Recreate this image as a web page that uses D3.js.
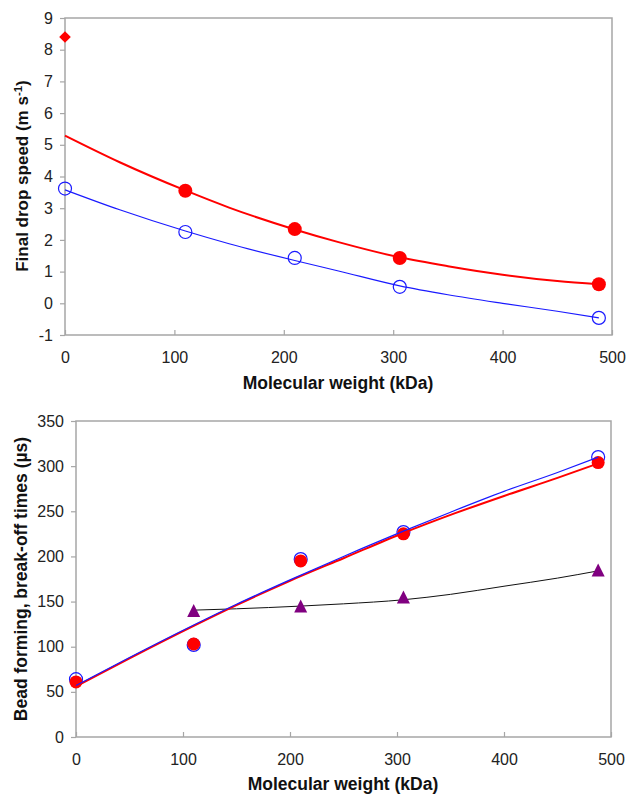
<!DOCTYPE html>
<html><head><meta charset="utf-8">
<script src="https://cdn.jsdelivr.net/npm/d3@7"></script>
<style>body{margin:0;background:#fff}svg{display:block}</style>
</head><body>
<svg id="c" width="626" height="795"></svg>
<script>
// ---------- Top chart data ----------
const xTicks = [0, 100, 200, 300, 400, 500];
const topYTicks = [-1, 0, 1, 2, 3, 4, 5, 6, 7, 8, 9];
const topMW = [110, 210, 306, 488];
const topRedSpeed = [3.55, 2.34, 1.43, 0.6];
const topDiamond = [[0, 8.4]];
const topBlueMW = [0, 110, 210, 306, 488];
const topBlueSpeed = [3.62, 2.25, 1.43, 0.52, -0.46];
const topRedCurveX = [0, 50, 110, 150, 210, 250, 306, 350, 400, 450, 488];
const topRedCurveY = [5.29, 4.45, 3.56, 3.02, 2.33, 1.93, 1.45, 1.17, 0.9, 0.7, 0.6];
const topBlueCurveX = [0, 50, 110, 150, 210, 250, 306, 350, 400, 450, 488];
const topBlueCurveY = [3.58, 2.95, 2.28, 1.88, 1.35, 1.02, 0.55, 0.27, 0.0, -0.25, -0.46];

// ---------- Bottom chart data ----------
const botYTicks = [0, 50, 100, 150, 200, 250, 300, 350];
const botMW = [0, 110, 210, 306, 488];
const botRed = [61, 103, 195, 225, 304];
const botBlue = [64, 102, 197, 227, 310];
const botTriMW = [110, 210, 306, 488];
const botTri = [140, 145, 155, 185];
const botBlueLineX = [0, 50, 110, 150, 200, 250, 306, 350, 400, 450, 488];
const botBlueLineY = [57, 88, 124, 147, 174, 200, 228, 249, 272, 293, 310];
const botRedLineX = [0, 50, 110, 150, 200, 250, 306, 350, 400, 450, 488];
const botRedLineY = [56, 87, 123, 146, 173, 198, 226, 246, 267, 287, 303];
const botBlackLineX = [110, 150, 210, 250, 306, 350, 400, 450, 488];
const botBlackLineY = [140.5, 142, 145, 147.5, 152, 158, 167, 176, 184];

const svg = d3.select('#c');
const FONT = 'Liberation Sans, Arial, sans-serif';
const AXC = '#a6a6a6';

function panel(o) {
  const x = d3.scaleLinear().domain([0, 500]).range([o.left, o.right]);
  const y = d3.scaleLinear().domain(o.ydom).range([o.bottom, o.top]);
  const g = svg.append('g');
  g.append('rect').attr('x', o.left).attr('y', o.top)
    .attr('width', o.right - o.left).attr('height', o.bottom - o.top)
    .attr('fill', 'none').attr('stroke', AXC).attr('stroke-width', 1.5);
  const xa = d3.axisBottom(x).tickValues(xTicks).tickFormat(d => String(d))
    .tickSizeInner(-5).tickSizeOuter(0).tickPadding(17);
  const gx = g.append('g').attr('transform', `translate(0,${o.bottom})`).call(xa);
  gx.select('.domain').remove();
  gx.selectAll('line').attr('stroke', AXC).attr('stroke-width', 1.2);
  gx.selectAll('text').attr('font-family', FONT).attr('font-size', 16).attr('fill', '#222');
  const ya = d3.axisLeft(y).tickValues(o.yticks).tickFormat(d => String(d))
    .tickSizeInner(5).tickSizeOuter(0).tickPadding(7);
  const gy = g.append('g').attr('transform', `translate(${o.left},0)`).call(ya);
  gy.select('.domain').remove();
  gy.selectAll('line').attr('stroke', AXC).attr('stroke-width', 1.2);
  gy.selectAll('text').attr('font-family', FONT).attr('font-size', 16).attr('fill', '#222');
  g.append('text').attr('x', o.xTitleX).attr('y', o.xTitleY).attr('text-anchor', 'middle')
    .attr('font-family', FONT).attr('font-weight', 'bold').attr('font-size', 17.5).attr('fill', '#111')
    .text('Molecular weight (kDa)');
  return {x, y, g};
}

const triType = {draw(ctx, size) {
  const w = Math.sqrt(size), h = w;
  ctx.moveTo(0, -h / 2); ctx.lineTo(w / 2, h / 2); ctx.lineTo(-w / 2, h / 2); ctx.closePath();
}};

// ---------- Top panel ----------
const T = panel({left: 65, right: 612, top: 18, bottom: 335, ydom: [-1, 9], yticks: topYTicks,
  xTitleX: 338, xTitleY: 389});
{
  const {x, y, g} = T;
  const line = d3.line().x(d => x(d[0])).y(d => y(d[1])).curve(d3.curveMonotoneX);
  g.append('path').datum(topRedCurveX.map((v, i) => [v, topRedCurveY[i]]))
    .attr('d', line).attr('fill', 'none').attr('stroke', '#ff0000').attr('stroke-width', 2);
  g.append('path').datum(topBlueCurveX.map((v, i) => [v, topBlueCurveY[i]]))
    .attr('d', line).attr('fill', 'none').attr('stroke', '#1a1aff').attr('stroke-width', 1.2);
  g.selectAll('.rc').data(topMW.map((v, i) => [v, topRedSpeed[i]])).enter().append('circle')
    .attr('cx', d => x(d[0])).attr('cy', d => y(d[1])).attr('r', 7).attr('fill', '#ff0000');
  g.selectAll('.bc').data(topBlueMW.map((v, i) => [v, topBlueSpeed[i]])).enter().append('circle')
    .attr('cx', d => x(d[0])).attr('cy', d => y(d[1])).attr('r', 6.5)
    .attr('fill', 'none').attr('stroke', '#1a1aff').attr('stroke-width', 1.2);
  g.selectAll('.dm').data(topDiamond).enter().append('path')
    .attr('d', d3.symbol(d3.symbolSquare, 68)())
    .attr('transform', d => `translate(${x(d[0])},${y(d[1])}) rotate(45)`).attr('fill', '#ff0000');
  const t = svg.append('text').attr('transform', 'translate(28,176) rotate(-90)').attr('text-anchor', 'middle')
    .attr('font-family', FONT).attr('font-weight', 'bold').attr('font-size', 17).attr('fill', '#111');
  t.append('tspan').text('Final drop speed (m s');
  t.append('tspan').attr('dy', -6).attr('font-size', 11.5).text('-1');
  t.append('tspan').attr('dy', 6).text(')');
}

// ---------- Bottom panel ----------
const B = panel({left: 76, right: 611, top: 421, bottom: 737, ydom: [0, 350], yticks: botYTicks,
  xTitleX: 343, xTitleY: 790});
{
  const {x, y, g} = B;
  const line = d3.line().x(d => x(d[0])).y(d => y(d[1])).curve(d3.curveMonotoneX);
  g.append('path').datum(botBlackLineX.map((v, i) => [v, botBlackLineY[i]]))
    .attr('d', line).attr('fill', 'none').attr('stroke', '#111').attr('stroke-width', 1);
  g.selectAll('.tr').data(botTriMW.map((v, i) => [v, botTri[i]])).enter().append('path')
    .attr('d', d3.symbol(triType, 170)())
    .attr('transform', d => `translate(${x(d[0])},${y(d[1])})`).attr('fill', '#800080');
  g.selectAll('.bc').data(botMW.map((v, i) => [v, botBlue[i]])).enter().append('circle')
    .attr('cx', d => x(d[0])).attr('cy', d => y(d[1])).attr('r', 6.5)
    .attr('fill', 'none').attr('stroke', '#1a1aff').attr('stroke-width', 1.2);
  g.selectAll('.rc').data(botMW.map((v, i) => [v, botRed[i]])).enter().append('circle')
    .attr('cx', d => x(d[0])).attr('cy', d => y(d[1])).attr('r', 6.5).attr('fill', '#ff0000');
  g.append('path').datum(botRedLineX.map((v, i) => [v, botRedLineY[i]]))
    .attr('d', line).attr('fill', 'none').attr('stroke', '#ff0000').attr('stroke-width', 2);
  g.append('path').datum(botBlueLineX.map((v, i) => [v, botBlueLineY[i]]))
    .attr('d', line).attr('fill', 'none').attr('stroke', '#1a1aff').attr('stroke-width', 1.2);
  svg.append('text').attr('transform', 'translate(27,579) rotate(-90)').attr('text-anchor', 'middle')
    .attr('font-family', FONT).attr('font-weight', 'bold').attr('font-size', 17.5).attr('fill', '#111')
    .text('Bead forming, break-off times (µs)');
}
</script>
</body></html>
